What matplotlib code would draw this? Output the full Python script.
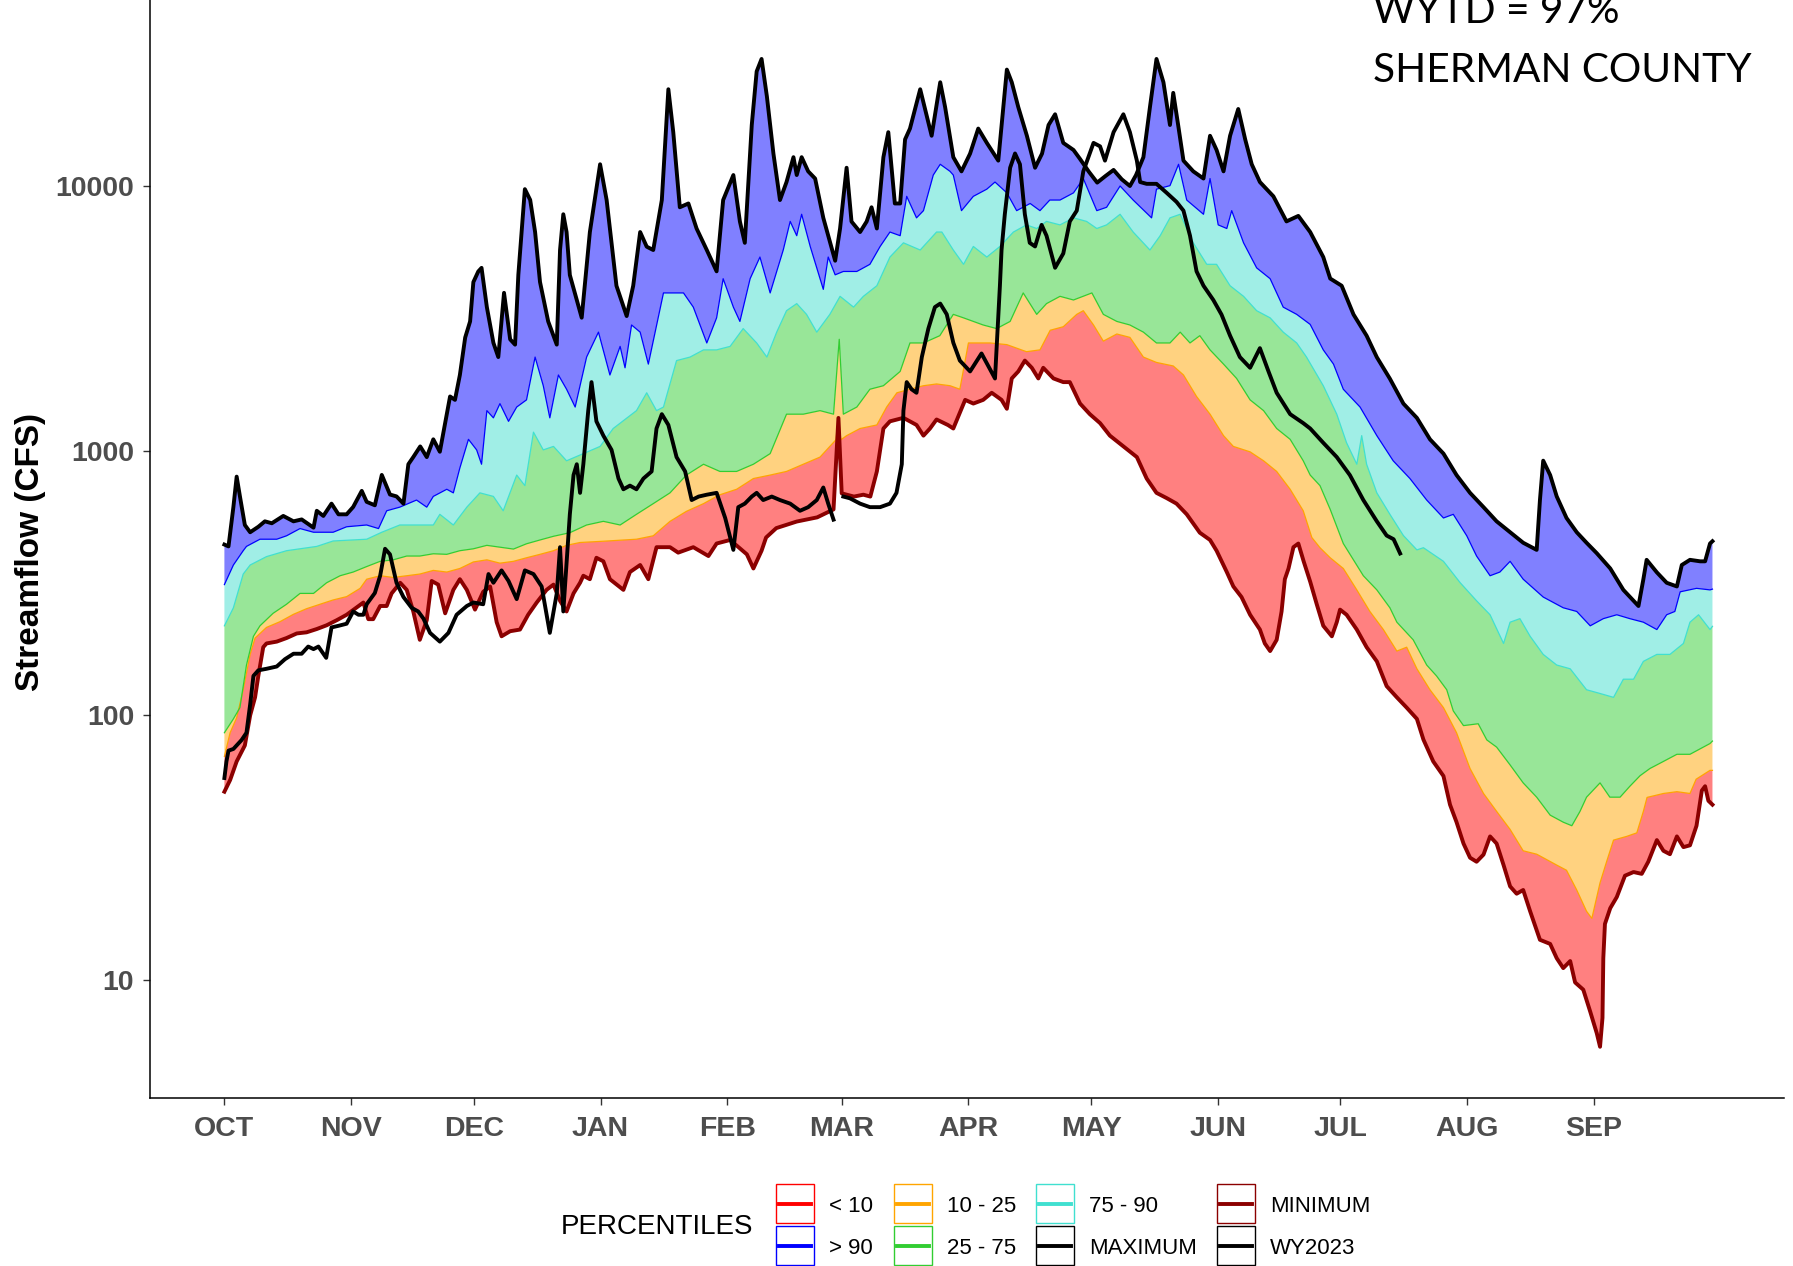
import numpy as np
import matplotlib.pyplot as plt
from matplotlib.patches import Rectangle
from matplotlib.lines import Line2D

# Días desde el 1 de octubre (año hidrológico) y caudales en CFS
max_days = [0, 1, 2.2, 3, 3.8, 5, 6.3, 8.3, 9.9, 11.6, 14.4, 16.9, 18.9, 21.8, 22.6, 24.2, 26.2, 27.9,
            29.9, 31.5, 33.6, 34.8, 36.8, 38.5, 40.5, 42.1, 43.8, 45, 46.2, 47.9, 49.5, 51.1, 52.7,
            53.9, 55.2, 56.4, 57.6, 58.9, 60.1, 60.9, 62.1, 62.9, 64.2, 65.8, 67, 68.4, 69.9, 71.1,
            71.9, 73.5, 74.8, 76, 77.2, 79.2, 81.3, 82.1, 82.9, 83.7, 84.5, 87.4, 89.4, 91.9, 93.5,
            95.9, 98.4, 100, 101.7, 103.3, 104.9, 107, 108.6, 109.8, 111.4, 113.5, 115.5, 118, 120.4,
            122, 124.5, 126.1, 127.3, 129, 130.2, 131.4, 132.7, 134.3, 135.9, 137.5, 139.2, 140,
            141.2, 142.8, 144.5, 146.5, 149.4, 150.6, 152.2, 153.4, 155.5, 157.1, 158.3, 159.6,
            161.2, 162.4, 164, 165.3, 166.5, 167.7, 170.2, 173, 175.1, 176.3, 178.3, 180.3, 182.4,
            184.4, 186.5, 189.3, 191.4, 192.6, 194.2, 196.3, 198.3, 200, 201.6, 203.2, 205.2, 207.7,
            209.3, 211.5, 213.5, 215.5, 217.5, 219.5, 221.5, 223, 224.8, 226.4, 228, 229.7, 231.3,
            232.1, 233.3, 234.6, 237, 239.5, 241.1, 242.7, 244.4, 246, 248, 249.7, 251.3, 253.3,
            256.6, 259.8, 262.7, 265.6, 268.8, 270.5, 273.3, 276.2, 279.4, 281.9, 285.1, 288.4,
            291.7, 294.9, 298.2, 301.4, 304.7, 308, 311.2, 314.5, 317.7, 321, 321.8, 322.6, 324.3,
            325.9, 328.3, 330.8, 333.2, 335.7, 339, 342.2, 345.9, 347.1, 347.9, 350.4, 352.8, 355.3,
            356.5, 358.5, 361, 362.2, 363.4, 364]
max_cfs = [442, 435, 613, 798, 672, 524, 492, 516, 541, 532, 567, 541, 550, 512, 593, 567, 631, 575,
           575, 613, 705, 641, 622, 810, 683, 672, 631, 889, 946, 1038, 946, 1104, 991,
           1250, 1603, 1556, 1932, 2677, 3079, 4335, 4755, 4906, 3487, 2556, 2258, 3948, 2634, 2516,
           4618, 9730, 8860, 6700, 4340, 3080, 2516, 5730, 7820, 6700, 4610, 3180, 6700, 12080, 8850,
           4200, 3226, 4200, 6700, 5900, 5730, 8850, 23200, 15970, 8310, 8590, 6910, 5730, 4760,
           8850, 11000, 7340, 6100, 17000, 27100, 30200, 21800, 13250, 8850, 10350, 12850, 11000,
           12850, 11360, 10670, 7580, 5220, 6910, 11720, 7340, 6700, 7340, 8310, 6910,
           12850, 15970, 8590, 8590, 15000, 16480, 23200, 15480, 24660, 19850, 12850, 11360, 13250,
           16480, 14550, 12470, 27530, 24660, 19850, 15480, 11720, 13250, 17000, 18660, 14550, 13680,
           12650, 11300, 10300, 10900, 11500, 10600, 10000, 11000, 12850, 19850, 30200, 24660, 17000,
           22480, 17000, 12470, 11360, 10670, 15480, 13680, 11360, 15480, 19540, 15000, 12080, 10350,
           9140, 7350, 7710, 6700, 5390, 4470, 4200, 3270, 2720, 2255, 1870, 1506,
           1330, 1104, 975, 809, 693, 612, 541, 492, 449, 422, 651, 917, 809,
           672, 557, 492, 449, 410, 359, 298, 259, 327, 387, 347, 317, 307,
           370, 387, 382, 382, 446, 455]

p90_days = [0, 2.2, 4.6, 5.4, 8.7, 12.8, 15.2, 18.5, 21.8, 26.6, 29.9, 34.8, 37.7, 39.7, 42.9, 47, 49.5,
            51.1, 54.4, 56, 57.6, 59.7, 61.7, 62.9, 64.2, 65.8, 67.4, 69.5, 71.5, 73.9, 76, 78, 79.6,
            81.7, 83.7, 85.8, 88.6, 91.5, 94.3, 96.8, 98, 99.6, 101.7, 103.7, 107.4, 109.8, 112.3,
            114.7, 118, 120.4, 122, 124.5, 126.1, 128.6, 131, 133.5, 136.7, 138.4, 140, 141.2, 143.3,
            146.5, 147.7, 149.4, 151.4, 154.7, 156.3, 157.9, 160.4, 162.8, 165.3, 166.9, 169.3, 171,
            173.4, 175.1, 177.5, 178.3, 180.3, 183.2, 186.5, 188.5, 191.4, 193.8, 197.1, 199.5, 201.9,
            204.4, 207.7, 210.1, 213.4, 215.8, 219.1, 222.3, 226.8, 228, 231.3, 233.4, 235.4, 239.5,
            241.1, 243.1, 245.2, 246.4, 249.3, 252.5, 255.8, 259, 262.3, 265.6, 268.8, 271.3, 273.7,
            277.8, 281.9, 285.9, 290, 294.1, 298.2, 300.6, 303.9, 306.3, 309.6, 312, 314.5, 317.7,
            322.6, 327.5, 330.8, 334.1, 337.3, 340.6, 343.8, 347.1, 350.4, 352.8, 354.8, 356.1, 360.1,
            363.4, 364]
p90_cfs = [312, 370, 419, 435, 463, 463, 477, 508, 492, 492, 516, 524, 508, 593, 612, 651, 612,
           672, 715, 693, 861, 1104, 1007, 889, 1417, 1331, 1506, 1291, 1462, 1556, 2258, 1760, 1331,
           1932, 1707, 1462, 2258, 2805, 1932, 2478, 2057, 2985, 2805, 2124, 3945, 3945, 3945,
           3487, 2553, 3176, 4465, 3487, 3079, 4465, 5390, 3945, 5730, 7350, 6490, 7820, 5910,
           4070, 5390, 4618, 4755, 4755, 4906, 5060, 5910, 6700, 6490, 9140, 7580, 8070,
           11000, 12080, 11360, 11000, 8070, 9140, 9730, 10350, 9420, 8070, 8590, 8070, 8850,
           8850, 9420, 10670, 8070, 8310, 10000, 8850, 7580, 9730, 10030, 12080, 8850, 7820,
           10670, 7130, 6910, 8070, 6100, 4906, 4465, 3487, 3274, 3000, 2404, 2124, 1707,
           1462, 1140, 916, 785, 651, 557, 575, 477, 400, 337, 348, 382, 327,
           280, 255, 247, 218, 232, 240, 232, 225, 211, 240, 247, 293, 302,
           298, 300]

p75_days = [0, 2.2, 4.6, 6.3, 10.3, 15.2, 22.6, 26.6, 34.8, 38.5, 42.9, 51.1, 52.7, 56, 59.3, 62.5,
            65.8, 68.2, 71.5, 73.5, 75.6, 78, 80.5, 83.7, 87.8, 91.9, 95.1, 100.8, 103.3, 105.7, 107.4,
            110.6, 113.9, 117.2, 120.4, 123.7, 126.9, 130.2, 132.7, 135.1, 137.5, 140, 142.4, 144.9,
            148.1, 150.6, 153.9, 156.3, 159.6, 162.8, 166.1, 170.2, 174.2, 175.5, 178.3, 180.8, 183.2,
            186.5, 189.7, 193, 196.2, 198.7, 201.1, 204.4, 207.7, 210.9, 213.4, 215.8, 219.1, 222.3,
            226.4, 228.9, 231.3, 233.8, 237, 240.3, 242.7, 246, 249.3, 252.5, 255.8, 259, 262.3, 264.7,
            268.8, 272.1, 274.5, 277, 278.2, 279.4, 281.9, 285.1, 288.4, 291.7, 293.3, 298.2, 302.3,
            306.3, 309.6, 312.9, 314.5, 316.9, 319.4, 322.6, 325.9, 329.2, 333.2, 336.5, 339.8, 342.2,
            344.7, 347.1, 350.4, 353.6, 356.9, 358.5, 360.6, 363.4, 364]
p75_cfs = [218, 255, 342, 370, 398, 419, 435, 456, 463, 492, 524, 524, 575, 524, 612, 693,
           672, 593, 809, 738, 1175, 1007, 1038, 916, 975, 1038, 1213, 1417, 1655, 1417, 1462,
           2190, 2258, 2404, 2404, 2478, 2893, 2553, 2258, 2805, 3380, 3595, 3274, 2805,
           3274, 3830, 3487, 3830, 4200, 5390, 6100, 5730, 6700, 6700, 5730, 5060, 5910,
           5390, 5910, 6700, 7130, 6910, 7350, 7130, 7580, 7350, 6910, 7130, 7820, 6700,
           5730, 6490, 7580, 7820, 6100, 5060, 5060, 4200, 3830, 3380, 3176, 2805, 2553, 2258,
           1760, 1374, 1071, 889, 1140, 889, 693, 575, 478, 422, 430, 382, 317,
           271, 240, 187, 225, 232, 199, 170, 155, 150, 125, 121, 117, 137,
           137, 160, 170, 170, 187, 225, 240, 211, 217]

p25_days = [0, 2.2, 3.8, 5.4, 7.1, 8.7, 11.9, 15.2, 18.5, 21.8, 25, 28.3, 31.5, 34.8, 38.1, 41.3, 44.6,
            47.8, 51.1, 54.4, 57.6, 60.9, 64.2, 67.4, 70.7, 73.9, 77.2, 80.5, 84.5, 88.6, 92.7, 96.8,
            100.8, 104.9, 109, 113, 117.2, 121.2, 125.3, 129.4, 133.5, 137.5, 141.6, 145.7, 149, 150.4,
            151.4, 154.7, 157.9, 161.2, 165.3, 167.7, 171, 175, 178.3, 180.8, 183.2, 185.6, 188.9,
            192.2, 195.4, 198.7, 201.1, 204.4, 207.7, 212.2, 215, 218.3, 221.5, 224.8, 228, 231.3,
            233.8, 236.2, 238.6, 241.1, 244.4, 247.6, 250.9, 254.2, 257.4, 260.7, 263.9, 265.6, 268,
            270.5, 273.7, 278.6, 281.9, 285.1, 286.8, 290.8, 294.1, 296.5, 299, 300.6, 303.1, 306.7,
            308.8, 311.2, 314.5, 317.7, 321, 324.3, 327.5, 329.6, 331.6, 333.2, 336.5, 338.9, 341.4,
            343.8, 346.3, 348.7, 352, 355.3, 358.5, 363.4, 364]
p25_cfs = [86, 97, 107, 155, 199, 218, 243, 263, 289, 289, 317, 337, 348, 365, 382, 387, 400,
           400, 408, 406, 419, 426, 439, 432, 425, 445, 460, 475, 490, 524, 541, 524,
           575, 631, 693, 809, 889, 835, 835, 889, 975, 1374, 1374, 1417, 1374, 2636,
           1374, 1462, 1707, 1760, 1993, 2553, 2553, 2720, 3274, 3176, 3079, 2985, 2893,
           3079, 3945, 3274, 3595, 3830, 3710, 3945, 3274, 3079, 2985, 2805, 2553, 2553,
           2805, 2553, 2720, 2404, 2124, 1875, 1556, 1417, 1213, 1104, 916, 809, 738,
           600, 446, 337, 298, 255, 225, 193, 155, 141, 125, 104, 91.5, 93,
           80.8, 75.9, 65, 55.6, 49.1, 42, 39.5, 38.3, 43.4, 49.1, 55.6, 49.1, 49.1,
           54, 59.2, 63, 67, 71.3, 71.3, 78.3, 80]

p10_days = [0, 1.4, 3, 4.6, 6.3, 7.5, 10.3, 13.6, 16.9, 20.1, 23.4, 26.6, 29.9, 33.2, 34.8, 38.1, 41.3,
            44.6, 47.8, 51.1, 54.4, 57.6, 60.9, 64.2, 67.4, 70.7, 73.9, 77.2, 80.5, 83.7, 87, 92.7,
            100.8, 104.9, 109, 113, 117.2, 121, 125.3, 129.4, 133.5, 137.5, 141.6, 145.7, 148.1, 149.6,
            150.2, 150.8, 152.2, 155.5, 159.6, 162, 164.5, 167.7, 171, 174.2, 177.5, 179.9, 182, 187.3,
            191.4, 196.2, 199.5, 202, 205.2, 208.5, 210.1, 212.6, 215, 218.3, 221.5, 224.8, 228, 232.1,
            234.6, 237.8, 241.1, 244.4, 246.8, 250.9, 254.2, 257.4, 260.7, 263.9, 266, 268, 270.5,
            273.7, 277, 280.2, 283.5, 286.8, 289.2, 291.7, 294.9, 298.2, 301.4, 304.7, 308, 311.2,
            314.5, 317.7, 321, 322.6, 325.9, 328.3, 330.8, 333.2, 334.5, 336.5, 338.1, 339.8, 343,
            345.5, 347.1, 348, 352, 355.3, 358.5, 360, 363.4, 364]
p10_cfs = [70, 86, 98, 125, 170, 196, 215, 226, 241, 253, 263, 273, 281, 302, 327, 337, 332,
           337, 342, 353, 348, 359, 380, 387, 376, 382, 394, 406, 419, 439, 450, 455,
           463, 477, 541, 590, 631, 680, 715, 785, 809, 835, 889, 946, 1038, 1100,
           1331, 1100, 1140, 1213, 1251, 1462, 1655, 1707, 1760, 1787, 1760, 1707, 2553, 2553,
           2516, 2366, 2404, 2851, 2940, 3275, 3380, 2985, 2594, 2760, 2680, 2258, 2155, 2090,
           1933, 1603, 1374, 1140, 1038, 990, 916, 835, 715, 593, 470, 430, 394,
           359, 298, 247, 211, 175, 181, 150, 125, 107, 86, 63, 50.7, 43.4,
           37.1, 30.8, 29.9, 29, 27.2, 26, 21.9, 18.2, 17.1, 23.3, 28, 33.8, 34.9,
           36, 43.4, 49, 50.7, 51.5, 50.7, 57.4, 62, 62]

min_days = [0, 1.4, 3, 5, 6.3, 7.5, 8.3, 9.5, 10.3, 12.8, 15.2, 17.7, 20.1, 22.6, 25, 27.5, 29.9, 32.4,
            34, 35.2, 36.4, 38.1, 39.7, 40.9, 43, 44.6, 46.2, 47.8, 49.5, 50.7, 52.3, 54, 56, 57.6,
            59.3, 61.3, 63.3, 65, 66.6, 67.8, 69.9, 72.3, 74.3, 76.4, 78.8, 80.5, 82.1, 83.7, 85.4,
            87, 87.8, 89.4, 91, 92.7, 94.3, 97.6, 99.2, 101.7, 103.7, 105.7, 109, 111, 114.7, 118.4,
            120.4, 123.7, 127.8, 129.4, 131.4, 132.5, 135, 140, 145, 149, 150.2, 151, 154, 156.3,
            158, 159.6, 161.2, 162.8, 166.1, 169.3, 171, 172.6, 174.2, 177, 178.3, 181.2, 183.2,
            185.6, 187.7, 190.1, 191.4, 192.6, 194.2, 195.8, 197.5, 199.1, 200.3, 202.8, 205.2,
            206.8, 209.3, 211.7, 214.2, 216.6, 219.9, 223.2, 225.6, 228, 230.5, 232.9, 235.4, 238.6,
            241.1, 242.7, 245.2, 246.8, 248.8, 250.9, 253.3, 254.5, 255.8, 257.4, 258.6, 259.4,
            260.3, 261.5, 262.7, 264, 265.6, 267.2, 268.8, 270.9, 272.1, 272.9, 274.5, 277, 279.4,
            281.9, 284.3, 286.8, 289.2, 291.7, 293.3, 295.7, 298.2, 299.8, 301.4, 303.1, 304.7,
            306.3, 308, 309.6, 311.2, 312.9, 314.5, 316.1, 317.7, 319.4, 321.8, 324.3, 325.9, 327.5,
            329.2, 330.4, 332.4, 334.1, 335.7, 336.5, 337.1, 337.3, 337.7, 339, 340.6, 342.6, 344.7,
            346.7, 348.3, 350.4, 352, 353.6, 355.3, 356.9, 358.5, 360.1, 361.4, 362.2, 363, 364]
min_cfs = [51.5, 57, 67, 77, 100, 117, 141, 181, 187, 190, 196, 204, 206, 212, 219, 229, 240, 256,
           267, 231, 231, 259, 259, 289, 317, 298, 247, 193, 229, 322, 312, 243, 298, 327,
           298, 251, 293, 307, 225, 199, 208, 211, 240, 267, 298, 312, 271, 247, 289,
           317, 337, 327, 394, 382, 327, 298, 348, 370, 327, 432, 432, 412, 432, 400,
           446, 460, 406, 359, 419, 470, 510, 540, 560, 600, 1330, 690, 671, 682,
           671, 835, 1213, 1291, 1331, 1251, 1140, 1213, 1312, 1250, 1213, 1556, 1507,
           1556, 1655, 1556, 1440, 1875, 1993, 2190, 2057, 1875, 2057, 1875, 1816,
           1816, 1507, 1374, 1271, 1140, 1038, 946, 785, 693, 662, 631, 575, 490,
           460, 419, 348, 307, 280, 240, 211, 187, 175, 193, 247, 327,
           359, 432, 446, 382, 320, 263, 218, 199, 225, 251, 240, 211, 181,
           160, 129, 117, 107, 97, 81, 67, 59, 46, 39.5, 32.8, 29,
           28, 29.8, 34.9, 32.8, 27.2, 22.6, 21.2, 21.9, 18.2, 14.2, 13.7, 12.1, 11.1,
           11.8, 9.8, 9.2, 7.6, 6.3, 5.6, 7.2, 12.1, 16.3, 18.7, 20.6, 24.8, 25.6,
           25.2, 28, 33.8, 30.8, 29.9, 34.9, 31.8, 32.3, 38.3, 52, 54, 47.6, 46]

# Año hidrológico 2023 (termina a mediados de julio, con un hueco a fin de febrero)
wy_days = [0, 0.5, 1, 2.2, 4.2, 5.4, 6.3, 7.1, 8.3, 10.3, 12.8, 14.8, 16.9, 18.9, 20.5, 21.8, 23, 24.9,
           26.2, 27.9, 29.9, 31.5, 32.8, 34, 34.8, 36.8, 38.1, 39.3, 40.5, 42.1, 43.8, 45.8, 47.4,
           48.7, 50.3, 52.7, 54.8, 56.8, 59.3, 60.9, 63.3, 64.6, 65.8, 67.8, 69.5, 71.5, 73.5, 75.6,
           77.6, 79.6, 81.3, 82.1, 82.9, 84.5, 85.4, 86.2, 87, 87.8, 89, 89.8, 91, 92.7, 94.7, 96.4,
           97.6, 99.2, 100.8, 102.5, 104.5, 105.7, 107, 108.6, 110.6, 112.7, 114.3, 116, 118, 120.4,
           122.5, 124.5, 125.7, 127.3, 129, 130.2, 131.8, 133.9, 135.9, 138.4, 140.8, 142.8, 144.9,
           146.5, 147.7, 149, 150.2, 151.4, 153, 155.5, 157.9, 160.4, 162.8, 164.4, 165.7, 166.1,
           166.9, 168.1, 169.3, 170.6, 172.2, 173.8, 175.1, 176.7, 178.3, 179.9, 182.4, 185.2, 188.5,
           189.7, 190.1, 190.9, 192.2, 193.4, 194.6, 195.8, 197, 198.3, 199.9, 201.1, 203.2, 205.2,
           206.8, 208.5, 210.1, 212.6, 214.2, 215.4, 217.5, 219.9, 221.5, 223.2, 224, 225.6, 228,
           230.5, 232.9, 234.6, 236.2, 237.8, 239.5, 241.9, 243.9, 246, 248.4, 250.9, 253.3, 255.4,
           257.4, 260.7, 263.9, 265.6, 268.8, 272.1, 275.3, 278.6, 281.9, 284.3, 286, 287.6]
wy_cfs = [58, 67, 73.6, 74.7, 80.7, 86, 110, 141, 148, 150, 153, 163, 171, 171, 182, 178, 182, 165,
          215, 218, 222, 247, 240, 240, 263, 290, 337, 426, 406, 317, 280, 255, 247,
          232, 205, 190, 205, 240, 259, 267, 263, 342, 317, 353, 322, 275, 353, 342,
          307, 205, 289, 432, 247, 575, 809, 889, 693, 889, 1417, 1816, 1291, 1140, 1007, 785,
          715, 738, 715, 785, 835, 1213, 1374, 1251, 946, 835, 651, 671, 682, 693,
          557, 422, 612, 631, 671, 693, 651, 671, 651, 631, 593, 612, 651,
          726, 631, 549, np.nan, 671, 661, 631, 612, 612, 631, 693, 889, 1417,
          1816, 1706, 1655, 2258, 2893, 3487, 3595, 3274, 2558, 2190, 1993, 2330, 1874,
          4200, 5730, 7820, 11720, 13270, 12080, 7820, 6100, 5910, 7130, 6490, 4910, 5560,
          7350, 8070, 11360, 14550, 14120, 12470, 15970, 18660, 15970, 12470, 10350, 10190, 10190,
          9420, 8710, 8070, 6490, 4760, 4200, 3710, 3270, 2720, 2258, 2057, 2440, 1993,
          1655, 1374, 1271, 1213, 1071, 946, 809, 651, 541, 478, 463, 409]

month_days = [0, 31, 61, 92, 123, 151, 182, 212, 243, 273, 304, 335]
month_labels = ['OCT', 'NOV', 'DEC', 'JAN', 'FEB', 'MAR', 'APR', 'MAY', 'JUN', 'JUL', 'AUG', 'SEP']

W, H = 1793, 1266
fig = plt.figure(figsize=(W / 100, H / 100), dpi=100)
plt.rcParams['font.family'] = ['Liberation Sans', 'DejaVu Sans']

# Ejes: borde izquierdo en x=150 px, eje inferior en y=1098 px, arriba recortado
ax = fig.add_axes([150 / W, 1 - 1098 / H, (1784 - 150) / W, 1098 / H])
ax.set_yscale('log')
ax.set_xlim(-18.2, 381.5)
ax.set_ylim(3.586, 50430)


def banda(d_hi, v_hi, d_lo, v_lo, color):
    xs = np.concatenate([np.array(d_hi, float), np.array(d_lo, float)[::-1]])
    ys = np.concatenate([np.array(v_hi, float), np.array(v_lo, float)[::-1]])
    ax.fill(xs, ys, color=color, lw=0, zorder=1)


banda(max_days, max_cfs, p90_days, p90_cfs, '#8080FF')
banda(p90_days, p90_cfs, p75_days, p75_cfs, '#A0EEE6')
banda(p75_days, p75_cfs, p25_days, p25_cfs, '#98E698')
banda(p25_days, p25_cfs, p10_days, p10_cfs, '#FFD280')
banda(p10_days, p10_cfs, min_days, min_cfs, '#FF8080')

ax.plot(p10_days, p10_cfs, color='#FFA500', lw=0.9, zorder=2)
ax.plot(p25_days, p25_cfs, color='#32CD32', lw=0.9, zorder=2)
ax.plot(p75_days, p75_cfs, color='#40E0D0', lw=0.9, zorder=2)
ax.plot(p90_days, p90_cfs, color='#0000FF', lw=0.9, zorder=2)
ax.plot(min_days, min_cfs, color='#8B0000', lw=2.8, zorder=3, solid_joinstyle='round')
ax.plot(max_days, max_cfs, color='black', lw=2.8, zorder=3, solid_joinstyle='round')
ax.plot(wy_days, wy_cfs, color='black', lw=2.8, zorder=4, solid_joinstyle='round')

ax.set_yticks([10, 100, 1000, 10000])
ax.set_yticklabels(['10', '100', '1000', '10000'])
ax.yaxis.set_minor_locator(plt.NullLocator())
ax.set_xticks(month_days)
ax.set_xticklabels(month_labels)
for lab in ax.get_xticklabels() + ax.get_yticklabels():
    lab.set_fontweight('bold')
    lab.set_fontsize(20.5)
    lab.set_color('#4D4D4D')
ax.tick_params(axis='both', length=5, width=1, color='#333333')
ax.tick_params(axis='x', pad=8)
ax.tick_params(axis='y', pad=6.5)
for s in ['top', 'right']:
    ax.spines[s].set_visible(False)
for s in ['left', 'bottom']:
    ax.spines[s].set_linewidth(1.1)
    ax.spines[s].set_color('black')

fig.text(31 / W, 1 - 552 / H, 'Streamflow (CFS)', rotation=90, ha='center', va='center',
         fontsize=24, fontweight='bold', color='black')

# Texto de la esquina superior derecha (parcialmente cortado arriba, como en el original)
t1 = fig.text(1373 / W, 1 - 82 / H, 'SHERMAN COUNTY', ha='left', va='baseline',
              fontsize=30, family='Lato')
t0 = fig.text(1373 / W, 1 - 23 / H, 'WYTD = 97%', ha='left', va='baseline',
              fontsize=30, family='Lato')
fig.canvas.draw()
ancho = t1.get_window_extent().width
tam = 30 * 377 / ancho
t1.set_fontsize(tam)
t0.set_fontsize(tam)

# Leyenda dibujada a mano, estilo ggplot
fig.text(561 / W, 1 - 1227 / H, 'PERCENTILES', ha='left', va='center', fontsize=20)
claves = [
    (776, 1184, '#FF0000', '< 10'), (776, 1226, '#0000FF', '> 90'),
    (894, 1184, '#FFA500', '10 - 25'), (894, 1226, '#32CD32', '25 - 75'),
    (1036, 1184, '#40E0D0', '75 - 90'), (1036, 1226, 'black', 'MAXIMUM'),
    (1217, 1184, '#8B0000', 'MINIMUM'), (1217, 1226, 'black', 'WY2023'),
]
for x, y, col, txt in claves:
    w, h = 38, 39
    fig.add_artist(Rectangle((x / W, 1 - (y + h) / H), w / W, h / H, transform=fig.transFigure,
                             facecolor='white', edgecolor=col, lw=1))
    fig.add_artist(Line2D([(x + 3) / W, (x + w - 3) / W], [1 - (y + h / 2) / H] * 2,
                          transform=fig.transFigure, color=col, lw=2.8))
    fig.text((x + w + 15) / W, 1 - (y + h / 2 + 3) / H, txt, ha='left', va='center', fontsize=16)

fig.savefig('out.png', dpi=100)
